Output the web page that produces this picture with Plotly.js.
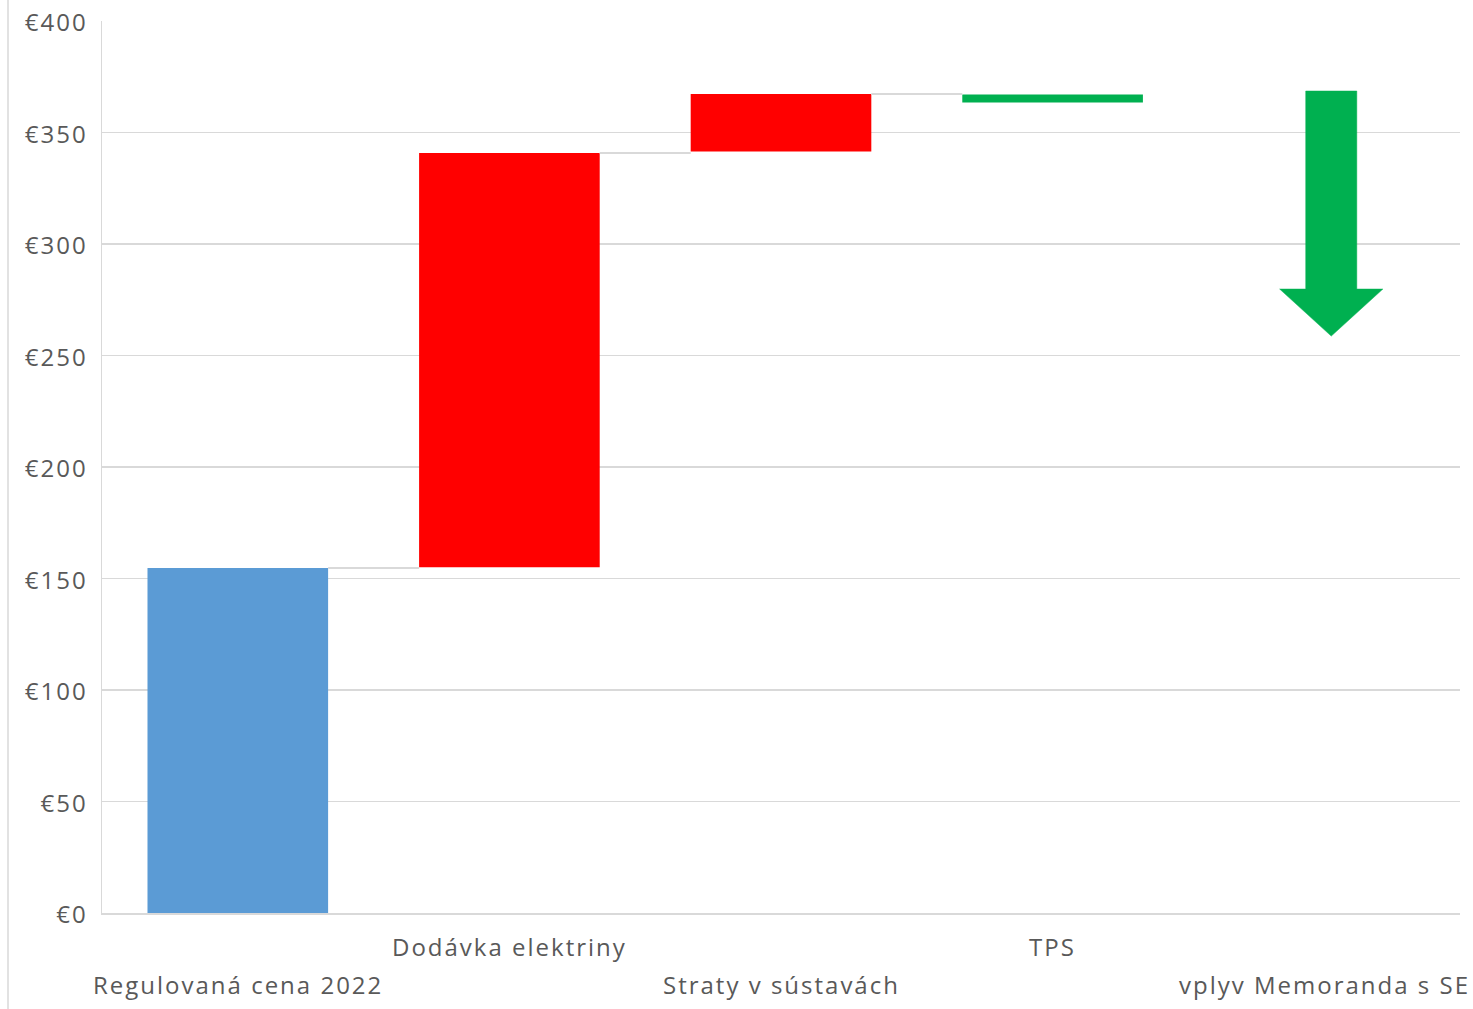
<!DOCTYPE html>
<html>
<head>
<meta charset="utf-8">
<script src="https://cdn.plot.ly/plotly-3.0.1.min.js"></script>
<style>
html,body{margin:0;padding:0;background:#fff;}
#chart{width:1473px;height:1009px;}
text{letter-spacing:2px;}
</style>
</head>
<body>
<div id="chart"></div>
<script>
// ---- data ----
const categories = ["Regulovaná cena 2022", "Dodávka elektriny", "Straty v sústavách", "TPS", "vplyv Memoranda s SE"];
const barBase = [0, 155, 341.5, 363.5];
const barTop = [154.7, 340.8, 367.3, 367];
const barColors = ["#5B9BD5", "#FF0000", "#FF0000", "#00B050"];
const arrowFrom = 368.6;
const arrowHeadStart = 279.8;
const arrowTo = 258.7;
const yTickVals = [0, 50, 100, 150, 200, 250, 300, 350, 400];
const yTickText = ["€0", "€50", "€100", "€150", "€200", "€250", "€300", "€350", "€400"];
const labelRow = [1, 0, 1, 0, 1]; // 0 = upper row, 1 = lower row

// ---- build ----
const FONT = "Open Sans, sans-serif";
const barW = 0.665;
const idx = barBase.map((_, i) => i);
const traces = [];

// connectors
for (let i = 0; i < barBase.length - 1; i++) {
  traces.push({
    type: "scatter", mode: "lines",
    x: [i + barW / 2, i + 1 - barW / 2],
    y: [barTop[i], barTop[i]],
    line: {color: "#D9D9D9", width: 2},
    hoverinfo: "skip", showlegend: false
  });
}

traces.push({
  type: "bar",
  x: idx,
  y: barTop.map((t, i) => t - barBase[i]),
  base: barBase,
  width: barW,
  marker: {color: barColors, line: {width: 0}},
  showlegend: false
});

// arrow for last category (drawn slightly right of the category centre, as in the source)
const ai = categories.length - 1;
const ac = ai + 0.026;
const shaftHW = 0.094, headHW = 0.19;
traces.push({
  type: "scatter", mode: "lines",
  x: [ac - shaftHW, ac + shaftHW, ac + shaftHW, ac + headHW, ac, ac - headHW, ac - shaftHW, ac - shaftHW],
  y: [arrowFrom, arrowFrom, arrowHeadStart, arrowHeadStart, arrowTo, arrowHeadStart, arrowHeadStart, arrowFrom],
  fill: "toself", fillcolor: "#00B050",
  line: {color: "#00B050", width: 0.5},
  hoverinfo: "skip", showlegend: false
});

const annotations = categories.map((c, i) => ({
  x: i, y: 0, xref: "x", yref: "paper",
  text: c, showarrow: false,
  xanchor: "center", yanchor: "middle",
  yshift: labelRow[i] ? -71 : -33,
  font: {family: FONT, size: 24, color: "#595959"}
}));

const layout = {
  width: 1473, height: 1009,
  margin: {l: 102, r: 13, t: 21, b: 96},
  paper_bgcolor: "#ffffff", plot_bgcolor: "#ffffff",
  showlegend: false,
  xaxis: {
    range: [-0.5, 4.5], showticklabels: false, showgrid: false, zeroline: false,
    showline: true, linecolor: "#D9D9D9", linewidth: 2, fixedrange: true
  },
  yaxis: {
    range: [0, 400], tickvals: yTickVals, ticktext: yTickText,
    showgrid: true, gridcolor: "#D9D9D9", gridwidth: 1.5, zeroline: false,
    showline: true, linecolor: "#D9D9D9", linewidth: 1.5,
    ticks: "outside", ticklen: 8, tickcolor: "rgba(0,0,0,0)",
    ticklabelshift: 2,
    tickfont: {family: FONT, size: 24, color: "#595959"}
  },
  annotations: annotations,
  shapes: [{
    type: "line", xref: "paper", yref: "paper",
    x0: -94 / 1358, x1: -94 / 1358, y0: -96 / 892, y1: 1.03,
    line: {color: "#D9D9D9", width: 1.5}
  }]
};

Plotly.newPlot("chart", traces, layout, {displayModeBar: false, staticPlot: true});
</script>
</body>
</html>
